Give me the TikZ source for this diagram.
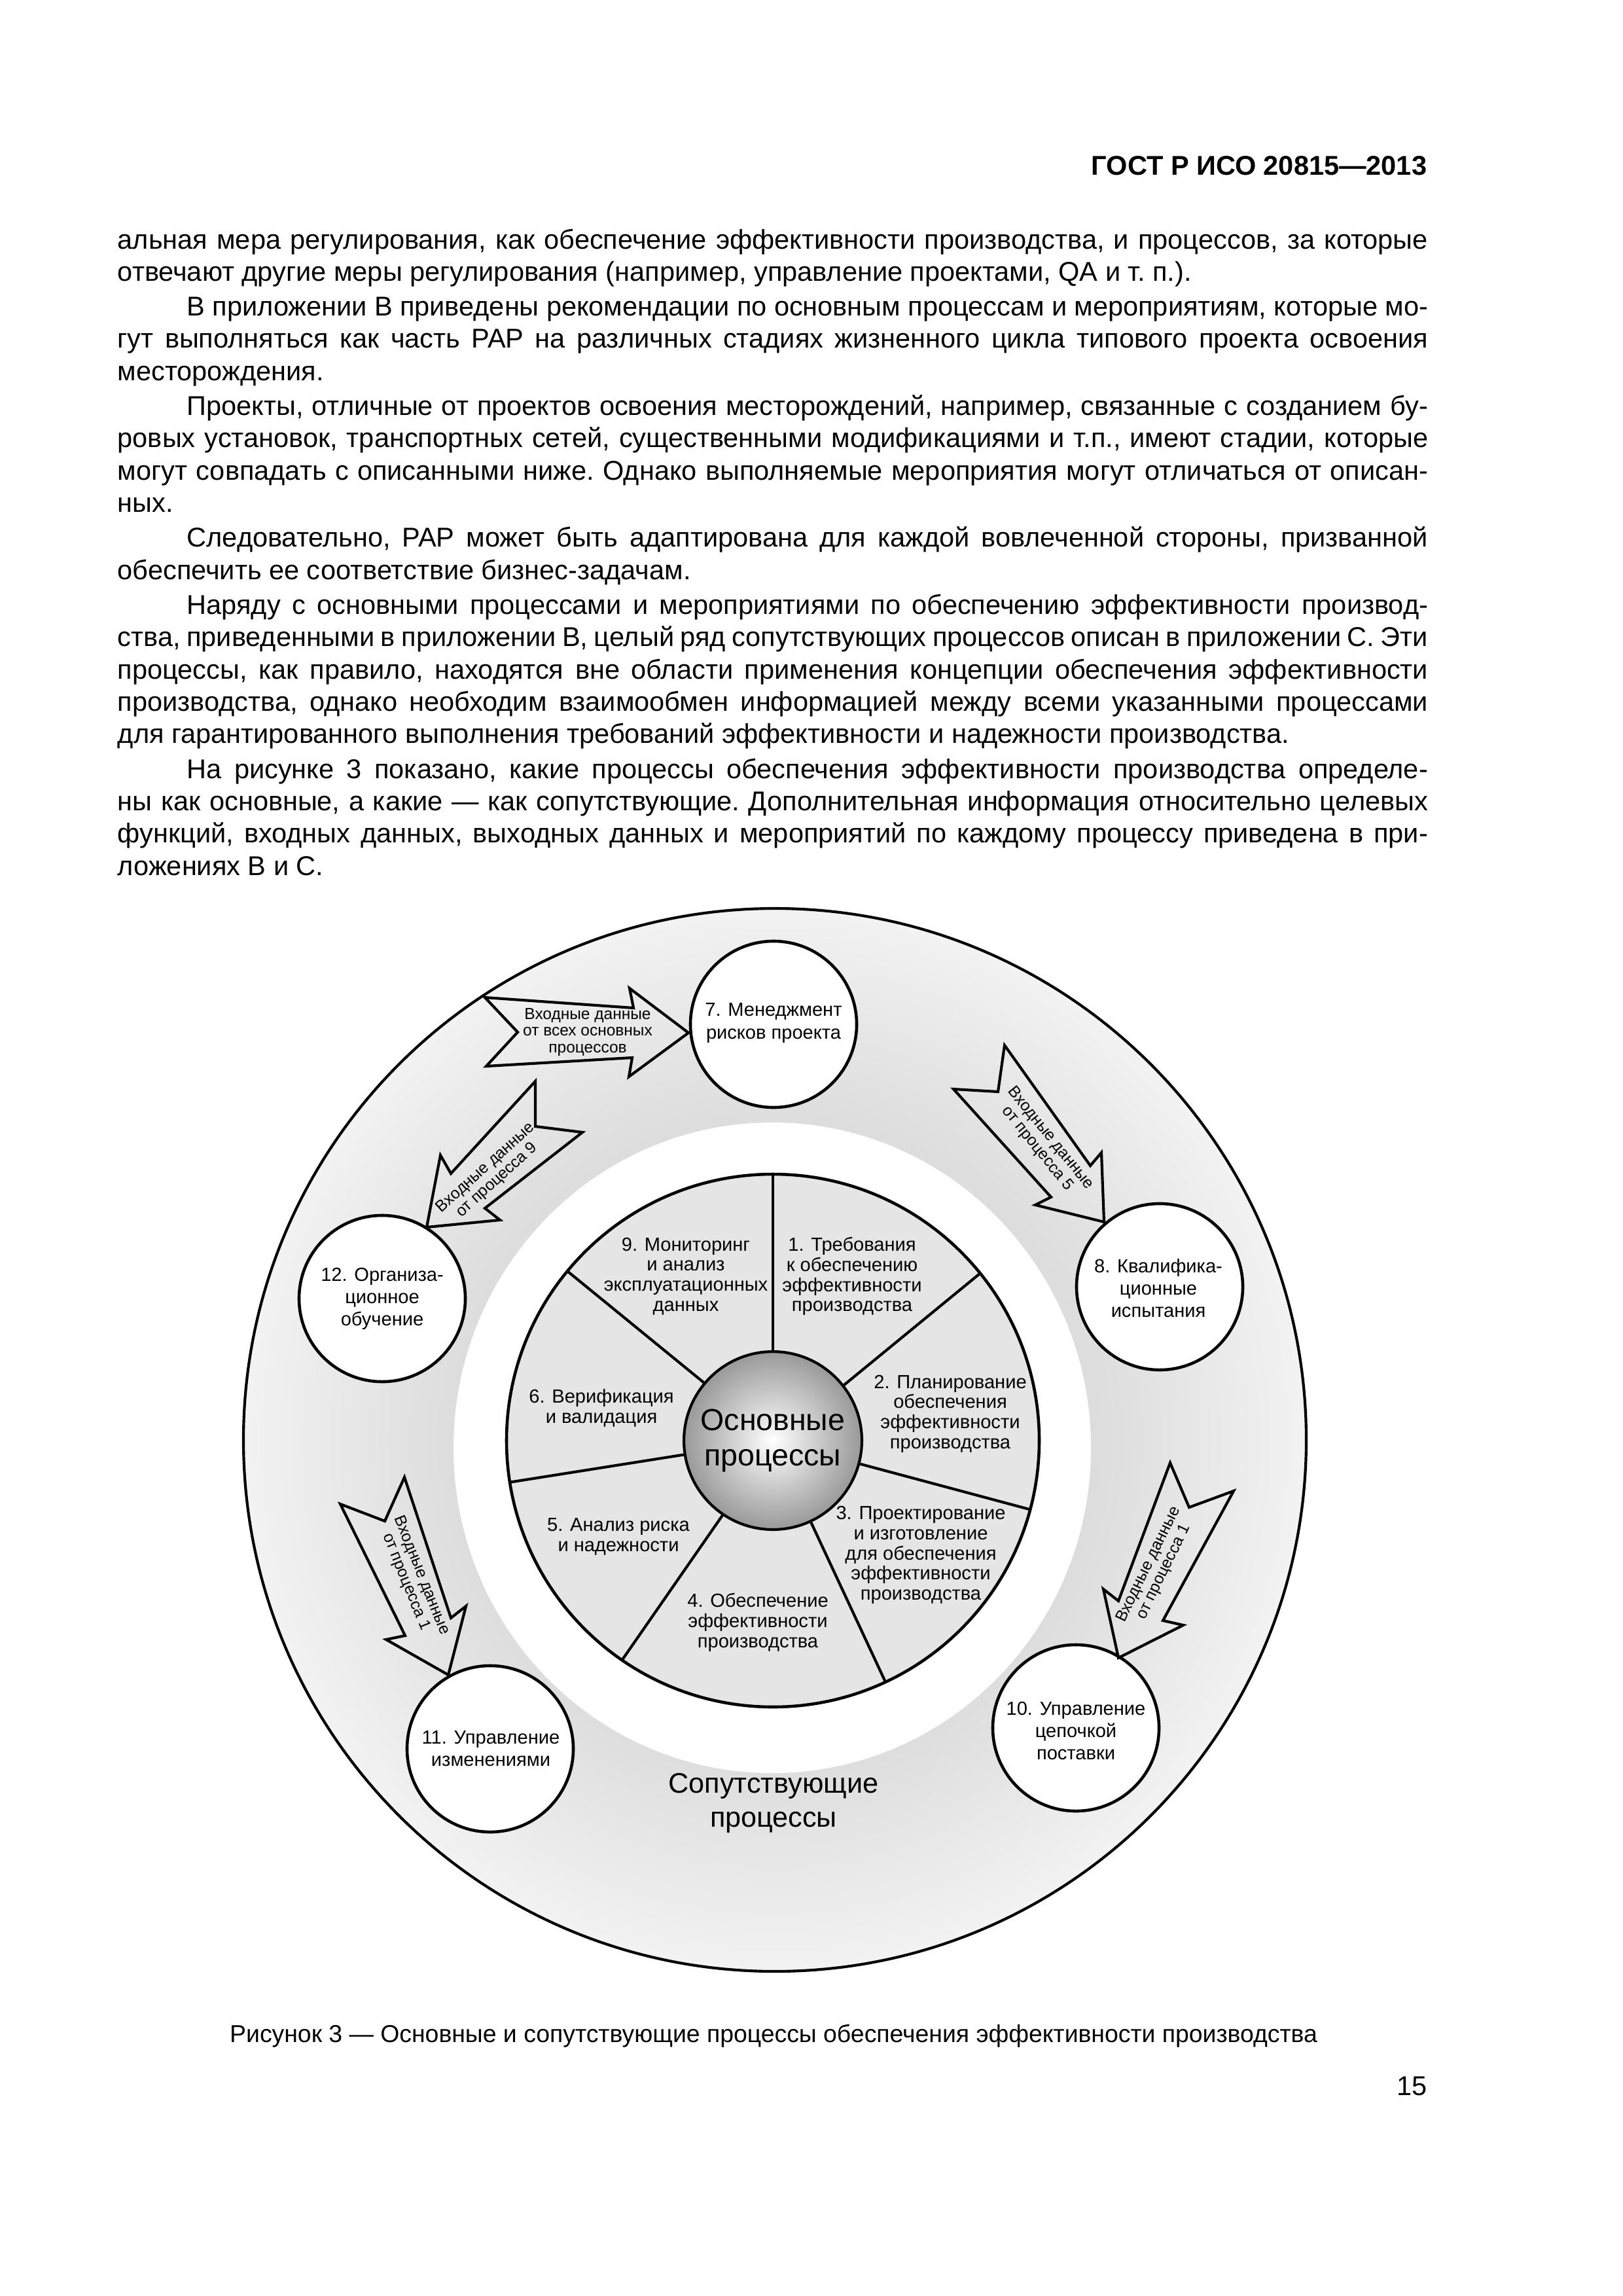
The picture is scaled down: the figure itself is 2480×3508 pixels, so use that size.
\documentclass[tikz,border=0pt]{standalone}
\usepackage{fontspec}
\setmainfont{Liberation Sans}
\usetikzlibrary{calc}
\pgfdeclareradialshading{ringshade}{\pgfpoint{0bp}{0bp}}{rgb(0bp)=(0.86,0.86,0.86); rgb(15bp)=(0.865,0.865,0.865); rgb(25bp)=(0.95,0.95,0.95); rgb(50bp)=(0.95,0.95,0.95)}
\definecolor{piefill}{gray}{0.9}
\newcommand{\jline}[1]{\hbox to 482.3pt{\strut #1}}
\newcommand{\iline}[1]{\hbox to 482.3pt{\strut\hskip 25.5pt #1}}
\newcommand{\eline}[1]{\hbox{\strut #1}}
\newcommand{\pgap}{\vskip 0.9pt}
\begin{document}
\begin{tikzpicture}[x=0.0846774mm,y=-0.0846774mm,
  sat/.style={circle,draw,fill=white,line width=1.1pt,minimum size=61.2pt,inner sep=0pt},
  sattext/.style={align=center,font=\fontsize{7}{8.2}\selectfont,inner sep=0pt},
  pietext/.style={align=center,font=\fontsize{7}{7.4}\selectfont,inner sep=0pt},
  atext/.style={align=center,font=\fontsize{5.9}{6.2}\selectfont,inner sep=0pt},
  arr/.style={draw,line width=1pt,line join=miter},
  divider/.style={line width=1pt}]
\useasboundingbox (0,0) rectangle (2480,3508);
\fill[white] (0,0) rectangle (2480,3508);

% header
\node[anchor=base east,inner sep=0pt,font=\bfseries\fontsize{10}{12}\selectfont] (hdr) at (2181,267) {ГОСТ Р ИСО 20815—2013};

% body text
\node[anchor=base west,inner sep=0pt] (body) at (179,380) {\vtop{\fontsize{10}{11.9}\selectfont\frenchspacing
\jline{альная мера регулирования, как обеспечение эффективности производства, и процессов, за которые}
\eline{отвечают другие меры регулирования (например, управление проектами, QA и т. п.).}
\pgap
\iline{В приложении В приведены рекомендации по основным процессам и мероприятиям, которые мо-}
\jline{гут выполняться как часть PAP на различных стадиях жизненного цикла типового проекта освоения}
\eline{месторождения.}
\pgap
\iline{Проекты, отличные от проектов освоения месторождений, например, связанные с созданием бу-}
\jline{ровых установок, транспортных сетей, существенными модификациями и т.п., имеют стадии, которые}
\jline{могут совпадать с описанными ниже. Однако выполняемые мероприятия могут отличаться от описан-}
\eline{ных.}
\pgap
\iline{Следовательно, PAP может быть адаптирована для каждой вовлеченной стороны, призванной}
\eline{обеспечить ее соответствие бизнес-задачам.}
\pgap
\iline{Наряду с основными процессами и мероприятиями по обеспечению эффективности производ-}
\jline{ства, приведенными в приложении В, целый ряд сопутствующих процессов описан в приложении С. Эти}
\jline{процессы, как правило, находятся вне области применения концепции обеспечения эффективности}
\jline{производства, однако необходим взаимообмен информацией между всеми указанными процессами}
\eline{для гарантированного выполнения требований эффективности и надежности производства.}
\pgap
\iline{На рисунке 3 показано, какие процессы обеспечения эффективности производства определе-}
\jline{ны как основные, а какие — как сопутствующие. Дополнительная информация относительно целевых}
\jline{функций, входных данных, выходных данных и мероприятий по каждому процессу приведена в при-}
\eline{ложениях В и С.}
}};

% ---------- diagram ----------
\coordinate (oc) at (1184,2200);
\coordinate (pc) at (1181,2201);
\shade[shading=ringshade] (oc) circle[radius=812];
\draw[line width=1pt] (oc) circle[radius=812];
\fill[white] (1180,2212) ellipse[x radius=487,y radius=497];

\fill[piefill] (pc) circle[radius=407];
\draw[line width=1.1pt] (pc) circle[radius=407];
\node[circle,draw,line width=1pt,minimum size=65.5pt,inner sep=0pt,shading=radial,inner color=white,outer color=black!40,
      align=center,font=\fontsize{11.2}{13}\selectfont] (core) at (pc) {Основные\\процессы};
\foreach \a in {90,38.9,-15,-65,-124.5,189,140.5}
  \draw[divider] (core.\a) -- ($(pc)+(-\a:407)$);

\node[pietext] (p1) at (1302,1950) {1. Требования\\к обеспечению\\эффективности\\производства};
\node[pietext] (p9) at (1048,1950) {9. Мониторинг\\и анализ\\эксплуатационных\\данных};
\node[pietext] (p2) at (1452,2160) {2. Планирование\\обеспечения\\эффективности\\производства};
\node[pietext] (p6) at (919,2151) {6. Верификация\\и валидация};
\node[pietext] (p5) at (945,2348) {5. Анализ риска\\и надежности};
\node[pietext] (p3) at (1407,2376) {3. Проектирование\\и изготовление\\для обеспечения\\эффективности\\производства};
\node[pietext] (p4) at (1158,2479) {4. Обеспечение\\эффективности\\производства};

% satellite circles
\node[sat] (c7) at (1182,1565) {};
\node[sat] (c8) at (1772,1966) {};
\node[sat] (c12) at (584,1984) {};
\node[sat] (c11) at (749,2672) {};
\node[sat] (c10) at (1644,2640) {};
\node[sattext] (t7) at (1182,1563) {7. Менеджмент\\рисков проекта};
\node[sattext] (t8) at (1770,1968) {8. Квалифика-\\ционные\\испытания};
\node[sattext] (t12) at (584,1984) {12. Организа-\\ционное\\обучение};
\node[sattext] (t11) at (750,2672) {11. Управление\\изменениями};
\node[sattext] (t10) at (1644,2644) {10. Управление\\цепочкой\\поставки};

\node[align=center,inner sep=0pt,font=\fontsize{10.4}{12.5}\selectfont] (sop) at (1182,2755) {Сопутствующие\\процессы};

% arrows
\draw[arr] (741,1524) -- (968,1540) -- (962,1510) -- (1052,1578) -- (961,1645) -- (966,1616) -- (743,1629) -- (791,1577) -- cycle;
\node[atext] (a7) at (898,1577) {Входные данные\\от всех основных\\процессов};

\draw[arr] (818,1652) -- (818,1721) -- (890,1730) -- (741,1846) -- (764,1864) -- (652,1875) -- (673,1765) -- (689,1793) -- cycle;
\node[atext,rotate=42] (a12) at (751,1794) {Входные данные\\от процесса 9};

\draw[arr] (1535,1597) -- (1666,1781) -- (1683,1761) -- (1687,1867) -- (1582,1841) -- (1606,1829) -- (1457,1664) -- (1525,1668) -- cycle;
\node[atext,rotate=-51] (a8) at (1595,1747) {Входные данные\\от процесса 5};

\draw[arr] (520,2298) -- (588,2324) -- (618,2257) -- (689,2472) -- (712,2454) -- (685,2559) -- (590,2505) -- (619,2499) -- cycle;
\node[atext,rotate=-68] (a11) at (632,2412) {Входные данные\\от процесса 1};

\draw[arr] (1709,2533) -- (1686,2428) -- (1709,2446) -- (1788,2235) -- (1817,2303) -- (1885,2278) -- (1777,2476) -- (1808,2483) -- cycle;
\node[atext,rotate=64] (a10) at (1767,2396) {Входные данные\\от процесса 1};

% caption and page number
\node[anchor=base,inner sep=0pt,font=\fontsize{9}{11}\selectfont] (cap) at (1182,3120) {Рисунок 3 — Основные и сопутствующие процессы обеспечения эффективности производства};
\node[anchor=base east,inner sep=0pt,font=\fontsize{10}{12}\selectfont] (pg) at (2181,3201) {15};
\end{tikzpicture}
\end{document}
